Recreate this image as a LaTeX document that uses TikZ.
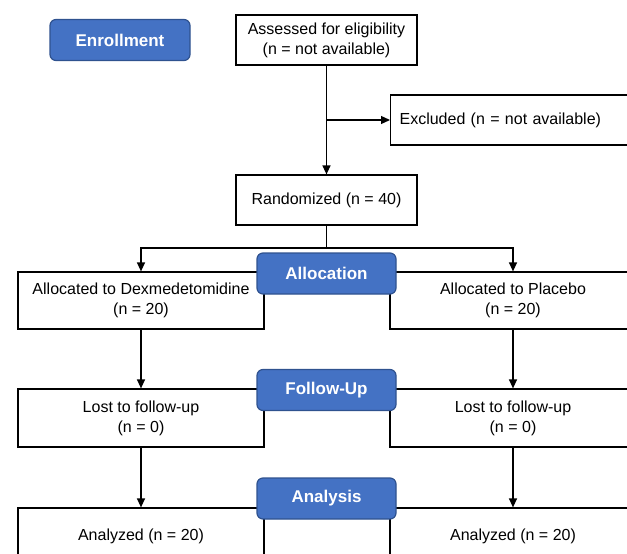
\documentclass[tikz,border=0pt]{standalone}
\usepackage{fontspec}
\setmainfont{Liberation Sans}
\usetikzlibrary{arrows.meta}
\definecolor{phaseblue}{HTML}{4472C4}
\definecolor{phaseline}{HTML}{2F528F}
\begin{document}
\begin{tikzpicture}[x=1pt, y=-1pt,
    box/.style={draw, line width=1.2pt, fill=white, align=center, inner sep=2pt,
      font=\fontsize{16}{20}\selectfont},
    midbox/.style={box, minimum width=181pt, minimum height=50pt},
    armbox/.style={box, minimum width=246pt, minimum height=57pt},
    phase/.style={draw=phaseline, line width=1.2pt, fill=phaseblue, rounded corners=6pt,
      text=white, minimum width=139pt, minimum height=41pt,
      font=\fontsize{17}{20}\selectfont\bfseries},
    flow/.style={line width=1.2pt, -{Triangle[length=9pt, width=8pt]}}]
    \useasboundingbox (0, 0) rectangle (627, 554) ;
    \clip (0, 0) rectangle (627, 554) ;
    % enrollment
    \node[phase, minimum width=140pt] (enroll) at (120, 40) {Enrollment} ;
    \node[midbox] (assess) at (326.5, 40) {Assessed for eligibility\\(n = not available)} ;
    \node[box, anchor=west, minimum width=246pt, minimum height=50pt, text width=236pt, align=left,
      inner xsep=9pt] (excl) at (390, 120) {Excluded (n = not available)} ;
    \node[midbox] (rand) at (326.5, 200) {Randomized (n = 40)} ;
    \draw[flow] (assess) -- (rand) ;
    \draw[flow] (assess.south |- excl.west) -- (excl.west) ;
    % allocation
    \node[armbox] (dexA) at (141, 300.5) {Allocated to Dexmedetomidine\\(n = 20)} ;
    \node[armbox] (plcA) at (513, 300.5) {Allocated to Placebo\\(n = 20)} ;
    \coordinate (split) at (326.5, 248) ;
    \draw[flow] (rand) -- (split) -| (dexA.north) ;
    \draw[flow] (split) -| (plcA.north) ;
    % follow-up
    \node[armbox, minimum height=58pt] (dexL) at (141, 418) {Lost to follow-up\\(n = 0)} ;
    \node[armbox, minimum height=58pt] (plcL) at (513, 418) {Lost to follow-up\\(n = 0)} ;
    \draw[flow] (dexA) -- (dexL) ;
    \draw[flow] (plcA) -- (plcL) ;
    % analysis
    \node[armbox, minimum height=58pt] (dexZ) at (141, 537) {\raisebox{4pt}{Analyzed (n = 20)}} ;
    \node[armbox, minimum height=58pt] (plcZ) at (513, 537) {\raisebox{4pt}{Analyzed (n = 20)}} ;
    \draw[flow] (dexL) -- (dexZ) ;
    \draw[flow] (plcL) -- (plcZ) ;
    % phase labels
    \node[phase] (alloc) at (326.5, 273.5) {Allocation} ;
    \node[phase] (follow) at (326.5, 390) {Follow-Up} ;
    \node[phase] (anal) at (326.5, 498.5) {Analysis} ;
  \end{tikzpicture}
\end{document}
